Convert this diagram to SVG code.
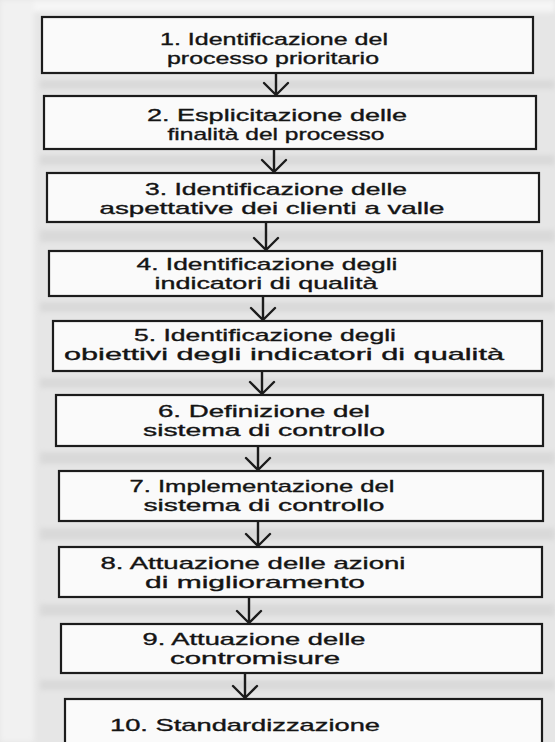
<svg xmlns="http://www.w3.org/2000/svg" width="555" height="742" viewBox="0 0 555 742">
  <style>
    .box { fill: #fafafa; stroke: #1c1c1c; stroke-width: 2.2; }
    .lbl { font-family: "Liberation Sans", Arial, sans-serif; font-size: 17px; fill: #141414; stroke: #141414; stroke-width: 0.35; text-anchor: middle; }
    .arr { fill: none; stroke: #1c1c1c; stroke-width: 2.4; stroke-linecap: round; stroke-linejoin: round; }
    .band { fill: #d9d9d9; }
  </style>
  <defs>
    <filter id="soft" x="-10%" y="-50%" width="120%" height="200%">
      <feGaussianBlur stdDeviation="2.5"/>
    </filter>
  </defs>

  <!-- page tone -->
  <rect x="0" y="0" width="555" height="742" fill="#e6e6e6"/>
  <g filter="url(#soft)">
    <rect x="0" y="0" width="555" height="12" fill="#f6f6f6"/>
    <rect x="0" y="0" width="34" height="742" fill="#f1f1f1"/>
    <rect class="band" x="40" y="80" width="515" height="9"/>
    <rect class="band" x="40" y="155" width="515" height="10"/>
    <rect class="band" x="40" y="230" width="515" height="12"/>
    <rect class="band" x="40" y="302" width="515" height="10"/>
    <rect class="band" x="40" y="378" width="515" height="10"/>
    <rect class="band" x="40" y="452" width="515" height="12"/>
    <rect class="band" x="40" y="528" width="515" height="12"/>
    <rect class="band" x="40" y="604" width="515" height="12"/>
    <rect class="band" x="40" y="680" width="515" height="10"/>
  </g>

  <!-- connectors -->
  <g id="connectors">
    <path class="arr" d="M276,74 V95 M264,83 L276,95 L288,83"/>
    <path class="arr" d="M274,150 V172 M262,160 L274,172 L286,160"/>
    <path class="arr" d="M266,223 V250 M254,238 L266,250 L278,238"/>
    <path class="arr" d="M263,297 V320 M251,308 L263,320 L275,308"/>
    <path class="arr" d="M262,372 V394 M250,382 L262,394 L274,382"/>
    <path class="arr" d="M258,447 V470 M246,458 L258,470 L270,458"/>
    <path class="arr" d="M258,522 V546 M246,534 L258,546 L270,534"/>
    <path class="arr" d="M249,598 V623 M237,611 L249,623 L261,611"/>
    <path class="arr" d="M245,674 V698 M233,686 L245,698 L257,686"/>
  </g>

  <g id="step1">
    <rect class="box" x="42" y="17" width="491" height="56"/>
    <text class="lbl" x="274" y="45" textLength="228" lengthAdjust="spacingAndGlyphs">1. Identificazione del</text>
    <text class="lbl" x="273" y="64" textLength="212" lengthAdjust="spacingAndGlyphs">processo prioritario</text>
  </g>
  <g id="step2">
    <rect class="box" x="44" y="96" width="492" height="53"/>
    <text class="lbl" x="277" y="121" textLength="260" lengthAdjust="spacingAndGlyphs">2. Esplicitazione delle</text>
    <text class="lbl" x="276" y="140" textLength="217" lengthAdjust="spacingAndGlyphs">finalità del processo</text>
  </g>
  <g id="step3">
    <rect class="box" x="47" y="173" width="492" height="49"/>
    <text class="lbl" x="276" y="195" textLength="262" lengthAdjust="spacingAndGlyphs">3. Identificazione delle</text>
    <text class="lbl" x="272" y="214" textLength="345" lengthAdjust="spacingAndGlyphs">aspettative dei clienti a valle</text>
  </g>
  <g id="step4">
    <rect class="box" x="49" y="251" width="493" height="45"/>
    <text class="lbl" x="267" y="270" textLength="261" lengthAdjust="spacingAndGlyphs">4. Identificazione degli</text>
    <text class="lbl" x="266" y="288.5" textLength="223" lengthAdjust="spacingAndGlyphs">indicatori di qualità</text>
  </g>
  <g id="step5">
    <rect class="box" x="53" y="321" width="489" height="50"/>
    <text class="lbl" x="265" y="341" textLength="262" lengthAdjust="spacingAndGlyphs">5. Identificazione degli</text>
    <text class="lbl" x="284" y="359.5" textLength="440" lengthAdjust="spacingAndGlyphs">obiettivi degli indicatori di qualità</text>
  </g>
  <g id="step6">
    <rect class="box" x="56" y="395" width="487" height="51"/>
    <text class="lbl" x="264" y="417" textLength="212" lengthAdjust="spacingAndGlyphs">6. Definizione del</text>
    <text class="lbl" x="264" y="436" textLength="242" lengthAdjust="spacingAndGlyphs">sistema di controllo</text>
  </g>
  <g id="step7">
    <rect class="box" x="59" y="471" width="484" height="50"/>
    <text class="lbl" x="262" y="492" textLength="265" lengthAdjust="spacingAndGlyphs">7. Implementazione del</text>
    <text class="lbl" x="264" y="511" textLength="241" lengthAdjust="spacingAndGlyphs">sistema di controllo</text>
  </g>
  <g id="step8">
    <rect class="box" x="59" y="547" width="483" height="50"/>
    <text class="lbl" x="253" y="569" textLength="305" lengthAdjust="spacingAndGlyphs">8. Attuazione delle azioni</text>
    <text class="lbl" x="255" y="588" textLength="220" lengthAdjust="spacingAndGlyphs">di miglioramento</text>
  </g>
  <g id="step9">
    <rect class="box" x="61" y="624" width="481" height="49"/>
    <text class="lbl" x="254" y="645" textLength="223" lengthAdjust="spacingAndGlyphs">9. Attuazione delle</text>
    <text class="lbl" x="255" y="664" textLength="170" lengthAdjust="spacingAndGlyphs">contromisure</text>
  </g>
  <g id="step10">
    <rect class="box" x="65" y="699" width="477" height="60"/>
    <text class="lbl" x="245" y="731" textLength="270" lengthAdjust="spacingAndGlyphs">10. Standardizzazione</text>
  </g>
</svg>
